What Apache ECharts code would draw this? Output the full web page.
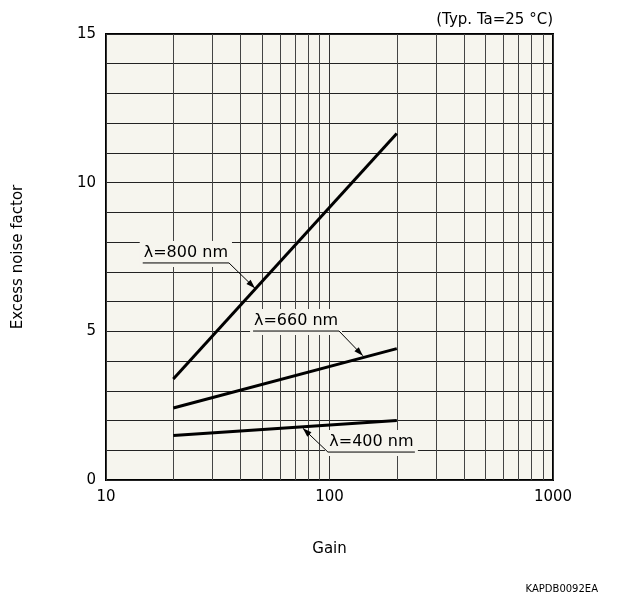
<!DOCTYPE html>
<html>
<head>
<meta charset="utf-8">
<script src="https://cdn.jsdelivr.net/npm/echarts@6/dist/echarts.min.js"></script>
<style>html,body{margin:0;padding:0;background:#fff;}#c{width:639px;height:602px;}</style>
</head>
<body>
<div id="c"></div>
<script>
// ---- data ----
const gain = [20, 200];
const nf800 = [3.4, 11.65];
const nf660 = [2.42, 4.42];
const nf400 = [1.5, 2.0];
const seriesNames = ['λ=800 nm', 'λ=660 nm', 'λ=400 nm'];
const minorGainLines = [20, 30, 40, 50, 60, 70, 80, 90, 200, 300, 400, 500, 600, 700, 800, 900];
const xMin = 10, xMax = 1000;
const yMin = 0, yMax = 15, yStep = 1, yLabelStep = 5;
// annotation geometry in data coordinates: underline start, underline end, arrow tip, which underline end the leader leaves from
const underlineStart = [[14.6, 7.3], [45.5, 5.01], [98.4, 0.94]];
const underlineEnd = [[35.5, 7.3], [110.3, 5.01], [241, 0.94]];
const arrowTips = [[46.4, 6.45], [141, 4.18], [76, 1.74]];
const leaderFrom = ['end', 'end', 'start'];

const FONT = 'DejaVu Sans';
const BG = '#f6f5ee';
const chart = echarts.init(document.getElementById('c'), null, {renderer: 'canvas'});

function pairs(xs, ys) { return xs.map((x, i) => [x, ys[i]]); }

const option = {
  animation: false,
  backgroundColor: '#ffffff',
  textStyle: {fontFamily: FONT},
  grid: {left: 106, right: 86, top: 34, bottom: 122, show: true, backgroundColor: BG, borderColor: '#000', borderWidth: 2, containLabel: false},
  xAxis: {
    type: 'log', logBase: 10, min: xMin, max: xMax,
    name: 'Gain', nameLocation: 'middle', nameGap: 62,
    nameTextStyle: {fontFamily: FONT, fontSize: 15, color: '#000'},
    axisLine: {show: false}, axisTick: {show: false},
    axisLabel: {fontFamily: FONT, fontSize: 15, color: '#000', margin: 10, formatter: v => String(Math.round(v))},
    splitLine: {show: true, lineStyle: {color: '#333', width: 1}}
  },
  yAxis: {
    type: 'value', min: yMin, max: yMax, interval: yStep,
    name: 'Excess noise factor', nameLocation: 'middle', nameGap: 80, nameRotate: 90,
    nameTextStyle: {fontFamily: FONT, fontSize: 15, color: '#000'},
    axisLine: {show: false}, axisTick: {show: false},
    axisLabel: {fontFamily: FONT, fontSize: 15, color: '#000', margin: 10,
      formatter: v => (v % yLabelStep === 0 ? String(v) : '')},
    splitLine: {show: true, lineStyle: {color: '#222', width: 1}}
  },
  series: [
    {type: 'line', name: 'grid', data: [], z: 1, silent: true,
      markLine: {silent: true, symbol: 'none', label: {show: false}, animation: false,
        lineStyle: {color: '#444', width: 1, type: 'solid'},
        data: minorGainLines.map(v => ({xAxis: v}))}},
    {type: 'line', name: seriesNames[0], data: pairs(gain, nf800), showSymbol: false, symbol: 'none', z: 10, lineStyle: {color: '#000', width: 3}},
    {type: 'line', name: seriesNames[1], data: pairs(gain, nf660), showSymbol: false, symbol: 'none', z: 10, lineStyle: {color: '#000', width: 3}},
    {type: 'line', name: seriesNames[2], data: pairs(gain, nf400), showSymbol: false, symbol: 'none', z: 10, lineStyle: {color: '#000', width: 3}}
  ]
};
chart.setOption(option);

// ---- annotations from data coordinates ----
const px = p => chart.convertToPixel({gridIndex: 0}, p);
const elements = [];
seriesNames.forEach((name, i) => {
  const a = px(underlineStart[i]);
  const b = px(underlineEnd[i]);
  const tip = px(arrowTips[i]);
  const from = leaderFrom[i] === 'end' ? b : a;
  const y = a[1];
  elements.push({type: 'rect', z: 5, silent: true,
    shape: {x: a[0] - 3, y: y - 22, width: b[0] - a[0] + 6, height: 26},
    style: {fill: BG}});
  elements.push({type: 'text', z: 12, silent: true,
    style: {text: name, x: (a[0] + b[0]) / 2, y: y - 2, align: 'center', verticalAlign: 'bottom',
      font: '16px "' + FONT + '"', fill: '#000'}});
  elements.push({type: 'line', z: 12, silent: true,
    shape: {x1: a[0], y1: y, x2: b[0], y2: y}, style: {stroke: '#000', lineWidth: 1}});
  elements.push({type: 'line', z: 12, silent: true,
    shape: {x1: from[0], y1: from[1], x2: tip[0], y2: tip[1]}, style: {stroke: '#000', lineWidth: 1}});
  const dx = tip[0] - from[0], dy = tip[1] - from[1];
  const L = Math.hypot(dx, dy), ux = dx / L, uy = dy / L;
  const len = 9, hw = 3;
  const bx = tip[0] - ux * len, by = tip[1] - uy * len;
  elements.push({type: 'polygon', z: 12, silent: true,
    shape: {points: [[tip[0], tip[1]], [bx - uy * hw, by + ux * hw], [bx + uy * hw, by - ux * hw]]},
    style: {fill: '#000'}});
});
const r = px([xMax, yMax]);
elements.push({type: 'text', z: 12, silent: true,
  style: {text: '(Typ. Ta=25 °C)', x: r[0], y: r[1] - 6, align: 'right', verticalAlign: 'bottom',
    font: '15px "' + FONT + '"', fill: '#000'}});
elements.push({type: 'text', z: 12, silent: true,
  style: {text: 'KAPDB0092EA', x: 598, y: 589, align: 'right', verticalAlign: 'middle',
    font: '10px "' + FONT + '"', fill: '#000'}});
chart.setOption({graphic: {elements: elements}});
</script>
</body>
</html>
